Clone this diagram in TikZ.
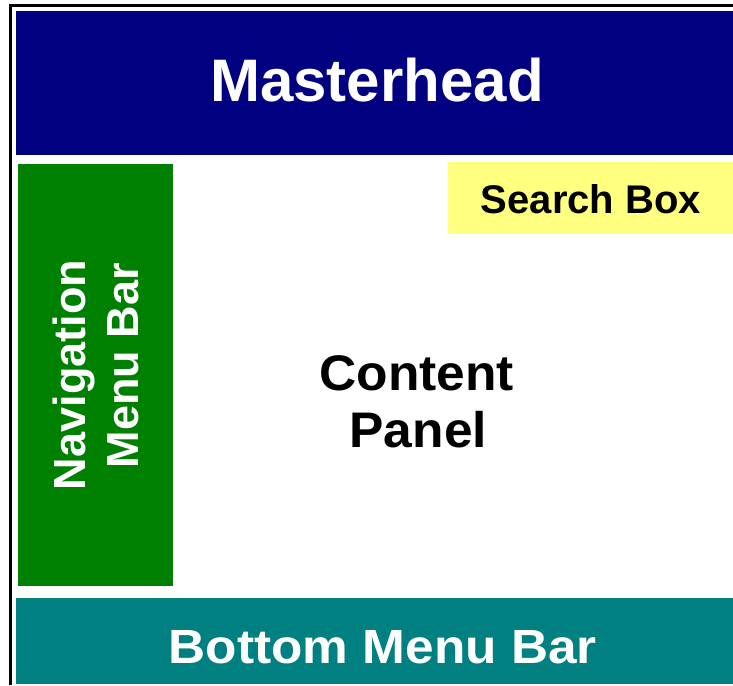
\documentclass[tikz,border=0pt]{standalone}
\usepackage{fontspec}
\setmainfont{Liberation Sans}
\usepackage{graphicx}
\usetikzlibrary{positioning}
\definecolor{mastblue}{HTML}{000080}
\definecolor{navgreen}{HTML}{008000}
\definecolor{searchyellow}{HTML}{FFFF80}
\definecolor{bottomteal}{HTML}{008080}
\tikzset{
  region/.style={draw=none,inner sep=0pt,outer sep=0pt,anchor=north west},
  lbl/.style={inner sep=0pt,anchor=base,font=\bfseries},
  lblwhite/.style={lbl,text=white},
}

\begin{document}
\begin{tikzpicture}[x=1pt,y=1pt]
  \useasboundingbox (0,0) rectangle (733,685);
  % page frame, open to the right and bottom
  \draw[line width=3.2pt] (10.7,0) -- (10.7,679.5) -- (733,679.5);
  % layout regions
  \node[region,fill=mastblue,minimum width=717,minimum height=144] (mast) at (16,674) {};
  \node[region,fill=navgreen,minimum width=155,minimum height=422] (nav) at (18,521) {};
  \node[region,fill=searchyellow,minimum width=285,minimum height=72] (search) at (448,523) {};
  \node[region,fill=bottomteal,minimum width=717,minimum height=86] (bottom) at (16,87) {};
  % labels
  \node[lblwhite,font=\fontsize{60}{60}\selectfont\bfseries] (mastlbl) at (377,583) {Masterhead};
  \node[lbl,font=\fontsize{40}{40}\selectfont\bfseries] (searchlbl) at (591,471.5) {Search Box};
  \node[lbl,font=\fontsize{50}{50}\selectfont\bfseries] (contentlbl) at (416.7,294) {\scalebox{1.03}[1]{Content}};
  \node[lbl,font=\fontsize{50}{50}\selectfont\bfseries] (panellbl) at (418.3,237) {\scalebox{1.03}[1]{Panel}};
  \node[lblwhite,rotate=90,font=\fontsize{45}{45}\selectfont\bfseries] (navlbl) at (85,310) {Navigation};
  \node[lblwhite,rotate=90,font=\fontsize{45}{45}\selectfont\bfseries] (menulbl) at (138.3,319.2) {Menu Bar};
  \node[lblwhite,font=\fontsize{48}{48}\selectfont\bfseries] (bottomlbl) at (382.8,21.7) {\scalebox{1.07}[1]{Bottom Menu Bar}};
\end{tikzpicture}
\end{document}
